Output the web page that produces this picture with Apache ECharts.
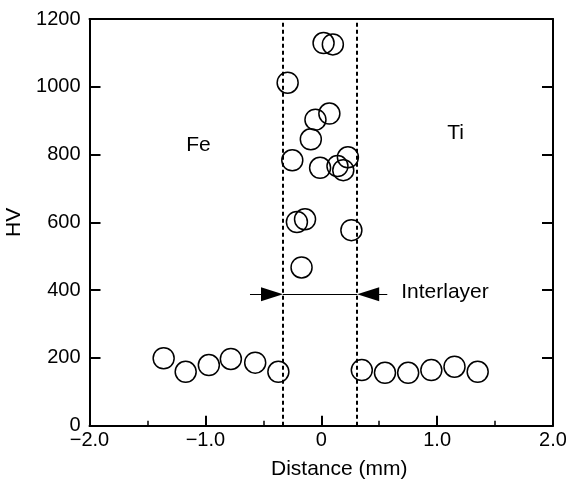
<!DOCTYPE html>
<html>
<head>
<meta charset="utf-8">
<script src="https://cdn.jsdelivr.net/npm/echarts@6/dist/echarts.min.js"></script>
<style>html,body{margin:0;padding:0;background:#fff;}#c{width:566px;height:488px;}</style>
</head>
<body>
<div id="c"></div>
<script>
// Hardness measurements (Distance mm, HV)
const feSide = [[-1.36,199],[-1.17,159],[-0.97,179],[-0.78,197],[-0.57,186],[-0.37,159]];
const interlayer = [[0.02,1129],[0.10,1125],[-0.29,1012],[-0.05,903],[0.07,921],[-0.09,845],
  [-0.25,783],[-0.01,761],[0.14,766],[0.19,754],[0.23,792],[-0.21,601],[-0.14,609],[0.26,577],[-0.17,467]];
const tiSide = [[0.35,164],[0.55,156],[0.75,156],[0.95,164],[1.15,174],[1.35,159]];

// Interlayer boundaries and annotation
const boundaries = [-0.33, 0.31];
const arrowLevel = 388;
const arrowLeftStart = -0.615;
const arrowRightEnd = 0.57;
const regionLabels = [{name:'Fe', value:[-1.06,828]},{name:'Ti', value:[1.16,863]}];
const interlayerLabel = {name:'Interlayer', value:[0.69,395]};

const xTickLabels = {'-2':'\u22122.0','-1':'\u22121.0','0':'0','1':'1.0','2':'2.0'};
const yTicks = [0,200,400,600,800,1000,1200];

const font = 'Liberation Sans, Arial, Helvetica, sans-serif';
const arrowHalf = 0.095;

const chart = echarts.init(document.getElementById('c'), null, {renderer:'canvas'});
const circleStyle = {color:'rgba(0,0,0,0)', borderColor:'#000', borderWidth:1.5, opacity:1};
const opt = {
  animation:false,
  backgroundColor:'#fff',
  grid:{left:89.5, right:13, top:19, bottom:62.3, containLabel:false, outerBoundsMode:'none'},
  xAxis:[{
    type:'value', min:-2, max:2, interval:1, position:'bottom',
    name:'Distance (mm)', nameLocation:'middle', nameGap:33,
    nameTextStyle:{fontFamily:font, fontSize:21, color:'#000', padding:[0,0,0,36]},
    axisLine:{show:true, onZero:false, lineStyle:{color:'#000', width:2}},
    axisTick:{show:true, inside:true, length:10, lineStyle:{color:'#000', width:2}},
    minorTick:{show:true, splitNumber:2, length:5, lineStyle:{color:'#000', width:1.5}},
    axisLabel:{margin:5, fontFamily:font, fontSize:20, color:'#000', formatter:v=>xTickLabels[String(v)]},
    splitLine:{show:false}
  },{
    type:'value', min:-2, max:2, interval:1, position:'top',
    axisLine:{show:true, onZero:false, lineStyle:{color:'#000', width:2}},
    axisTick:{show:false}, axisLabel:{show:false}, splitLine:{show:false}
  }],
  yAxis:[{
    type:'value', min:0, max:1200, interval:200, position:'left',
    name:'HV', nameLocation:'middle', nameGap:58,
    nameTextStyle:{fontFamily:font, fontSize:21, color:'#000'},
    axisLine:{show:true, onZero:false, lineStyle:{color:'#000', width:2}},
    axisTick:{show:true, inside:true, length:11, lineStyle:{color:'#000', width:2}},
    axisLabel:{margin:9, fontFamily:font, fontSize:20, color:'#000', formatter:v=>yTicks.includes(v)?String(v):''},
    splitLine:{show:false}
  },{
    type:'value', min:0, max:1200, interval:200, position:'right',
    axisLine:{show:true, onZero:false, lineStyle:{color:'#000', width:2}},
    axisTick:{show:true, inside:true, length:11, lineStyle:{color:'#000', width:2}},
    axisLabel:{show:false}, splitLine:{show:false}
  }],
  series:[
    {type:'scatter', symbol:'circle', symbolSize:21, itemStyle:circleStyle, data:feSide, z:3},
    {type:'scatter', symbol:'circle', symbolSize:21, itemStyle:circleStyle, data:interlayer, z:3},
    {type:'scatter', symbol:'circle', symbolSize:21, itemStyle:circleStyle, data:tiSide, z:3},
    {type:'scatter', symbolSize:0, data:regionLabels, itemStyle:{opacity:1},
      label:{show:true, position:'inside', formatter:p=>p.name, fontFamily:font, fontSize:21, color:'#000'}},
    {type:'scatter', symbolSize:0, data:[interlayerLabel], itemStyle:{opacity:1},
      label:{show:true, position:'right', distance:0, formatter:p=>p.name, fontFamily:font, fontSize:21, color:'#000'},
      markLine:{
        silent:true, animation:false, label:{show:false},
        data:[
          [{coord:[boundaries[0],0], symbol:'none'},{coord:[boundaries[0],1200], symbol:'none'}],
          [{coord:[boundaries[1],0], symbol:'none'},{coord:[boundaries[1],1200], symbol:'none'}],
          [{coord:[arrowLeftStart,arrowLevel], symbol:'none'},{coord:[boundaries[0]-arrowHalf,arrowLevel], symbol:'triangle', symbolSize:[14,22]}],
          [{coord:[boundaries[0],arrowLevel], symbol:'none'},{coord:[boundaries[1],arrowLevel], symbol:'none'}],
          [{coord:[arrowRightEnd,arrowLevel], symbol:'none'},{coord:[boundaries[1]+arrowHalf,arrowLevel], symbol:'triangle', symbolSize:[14,22]}]
        ].map((d,i)=>{
          d[0].lineStyle = i<2 ? {type:[4,3], width:2, color:'#000'} : {type:'solid', width:1, color:'#000'};
          d[1].itemStyle = {color:'#000'};
          return d;
        })
      }
    }
  ]
};
chart.setOption(opt);
</script>
</body>
</html>
